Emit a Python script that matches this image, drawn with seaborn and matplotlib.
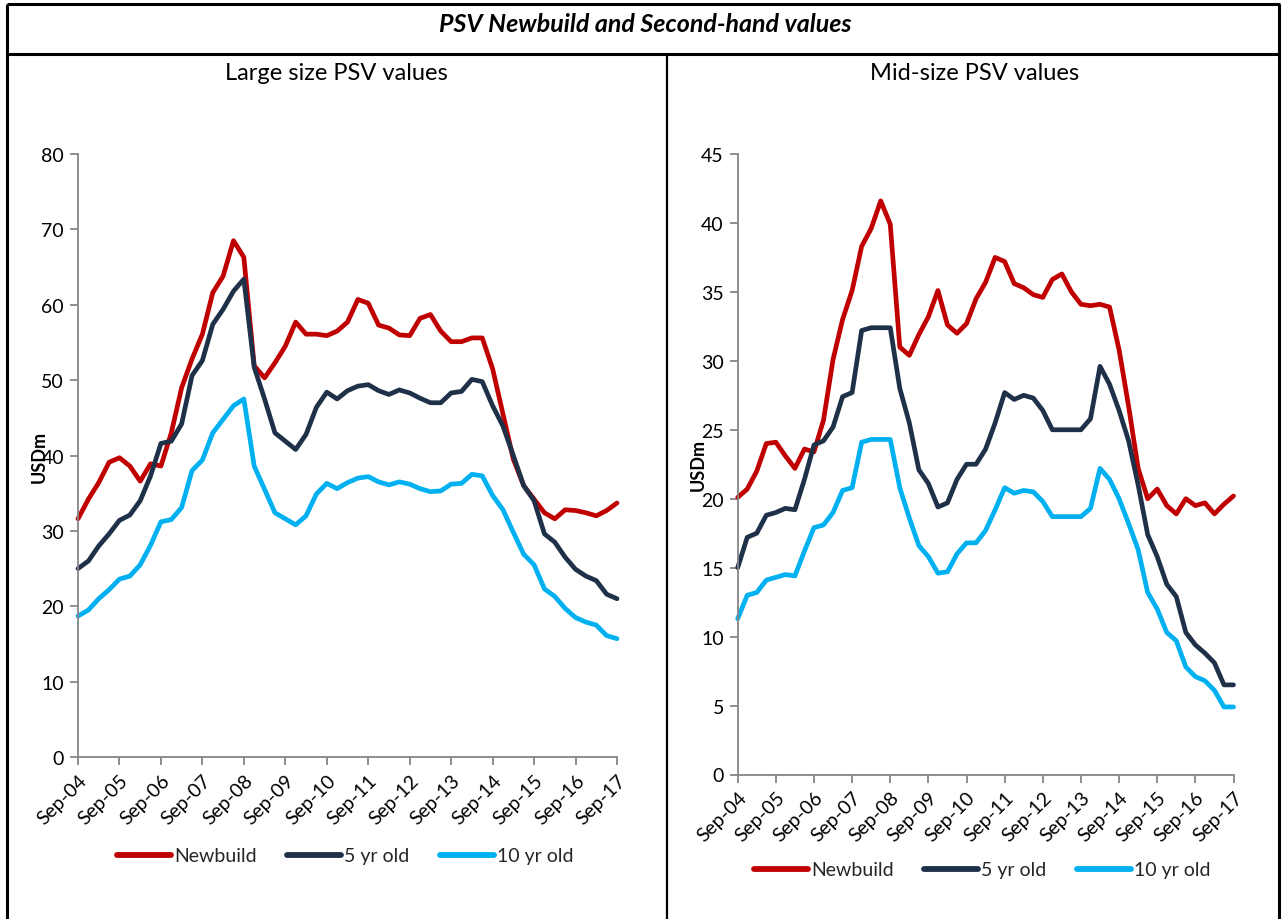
import numpy as np
import pandas as pd
import matplotlib
matplotlib.use("Agg")
import matplotlib.pyplot as plt
from matplotlib.lines import Line2D
import seaborn as sns

# ---------------- data ----------------
tick_labels = ["Sep-04", "Sep-05", "Sep-06", "Sep-07", "Sep-08", "Sep-09", "Sep-10",
               "Sep-11", "Sep-12", "Sep-13", "Sep-14", "Sep-15", "Sep-16", "Sep-17"]
series_names = ["Newbuild", "5 yr old", "10 yr old"]

large_newbuild = [31.6, 34.2, 36.4, 39.1, 39.7, 38.6, 36.6, 38.9, 38.6, 43.0,
                  49.0, 52.8, 56.1, 61.6, 63.8, 68.5, 66.3, 51.9, 50.3, 52.3,
                  54.5, 57.7, 56.1, 56.1, 55.9, 56.5, 57.7, 60.7, 60.2, 57.3,
                  56.9, 56.0, 55.9, 58.2, 58.7, 56.5, 55.1, 55.1, 55.6, 55.6,
                  51.5, 45.5, 39.5, 36.0, 34.2, 32.4, 31.6, 32.8, 32.7, 32.4,
                  32.0, 32.7, 33.7]
large_5yr = [25.0, 26.0, 28.0, 29.6, 31.4, 32.1, 34.0, 37.3, 41.6, 41.9,
             44.2, 50.6, 52.6, 57.4, 59.4, 61.8, 63.4, 51.7, 47.5, 43.0,
             41.9, 40.8, 42.8, 46.4, 48.4, 47.5, 48.6, 49.2, 49.4, 48.6,
             48.1, 48.7, 48.3, 47.6, 47.0, 47.0, 48.3, 48.5, 50.1, 49.8,
             46.6, 43.9, 40.0, 36.0, 34.0, 29.6, 28.5, 26.5, 24.9, 24.0,
             23.4, 21.6, 21.0]
large_10yr = [18.7, 19.5, 21.0, 22.2, 23.6, 24.0, 25.5, 28.1, 31.2, 31.5,
              33.1, 38.0, 39.4, 43.0, 44.8, 46.6, 47.5, 38.6, 35.5, 32.4,
              31.6, 30.8, 32.0, 34.9, 36.3, 35.6, 36.4, 37.0, 37.2, 36.5,
              36.1, 36.5, 36.2, 35.6, 35.2, 35.3, 36.2, 36.3, 37.5, 37.3,
              34.7, 32.8, 29.8, 26.9, 25.5, 22.3, 21.3, 19.7, 18.5, 17.9,
              17.5, 16.1, 15.7]

mid_newbuild = [20.1, 20.7, 22.0, 24.0, 24.1, 23.1, 22.2, 23.6, 23.4, 25.7,
                30.1, 33.0, 35.1, 38.3, 39.6, 41.6, 39.9, 31.0, 30.4, 31.9,
                33.2, 35.1, 32.6, 32.0, 32.7, 34.5, 35.7, 37.5, 37.2, 35.6,
                35.3, 34.8, 34.6, 35.9, 36.3, 35.0, 34.1, 34.0, 34.1, 33.9,
                30.8, 26.7, 22.2, 20.0, 20.7, 19.5, 18.9, 20.0, 19.5, 19.7,
                18.9, 19.6, 20.2]
mid_5yr = [15.0, 17.2, 17.5, 18.8, 19.0, 19.3, 19.2, 21.4, 23.9, 24.2,
           25.2, 27.4, 27.7, 32.2, 32.4, 32.4, 32.4, 28.0, 25.5, 22.1,
           21.1, 19.4, 19.7, 21.4, 22.5, 22.5, 23.6, 25.5, 27.7, 27.2,
           27.5, 27.3, 26.4, 25.0, 25.0, 25.0, 25.0, 25.8, 29.6, 28.3,
           26.4, 24.2, 21.0, 17.4, 15.8, 13.8, 12.9, 10.3, 9.4, 8.8,
           8.1, 6.5, 6.5]
mid_10yr = [11.3, 13.0, 13.2, 14.1, 14.3, 14.5, 14.4, 16.2, 17.9, 18.1,
            19.0, 20.6, 20.8, 24.1, 24.3, 24.3, 24.3, 20.8, 18.6, 16.6,
            15.8, 14.6, 14.7, 16.0, 16.8, 16.8, 17.7, 19.2, 20.8, 20.4,
            20.6, 20.5, 19.8, 18.7, 18.7, 18.7, 18.7, 19.3, 22.2, 21.4,
            20.0, 18.2, 16.3, 13.2, 12.0, 10.3, 9.7, 7.8, 7.1, 6.8,
            6.1, 4.9, 4.9]

colors = ["#C00000", "#1F3149", "#00B0F0"]


def long_frame(values_list):
    rows = []
    for name, vals in zip(series_names, values_list):
        for q, v in enumerate(vals):
            rows.append({"q": q, "value": v, "series": name})
    return pd.DataFrame(rows)


df_large = long_frame([large_newbuild, large_5yr, large_10yr])
df_mid = long_frame([mid_newbuild, mid_5yr, mid_10yr])

# ---------------- style ----------------
sns.set_theme(style="white")
plt.rcParams["font.family"] = ["Lato", "DejaVu Sans"]

W, H = 1282, 920
fig = plt.figure(figsize=(W / 100, H / 100), dpi=100)
fig.patch.set_facecolor("white")


def px_rect(left, right, top, bottom):
    return [left / W, 1 - bottom / H, (right - left) / W, (bottom - top) / H]


ax1 = fig.add_axes(px_rect(78, 617, 155, 758))
ax2 = fig.add_axes(px_rect(737.7, 1233.5, 155, 775.5))

grey = "#868686"
n_q = len(large_newbuild)
tick_pos = list(range(0, n_q, 4))


def style_axes(ax, df, ymax, ystep, label_x):
    sns.lineplot(data=df, x="q", y="value", hue="series", hue_order=series_names,
                 palette=colors, linewidth=3.4, ax=ax, legend=False,
                 solid_joinstyle="round", solid_capstyle="round")
    for ln in ax.lines:
        ln.set_clip_on(False)
    ax.set_xlim(0, n_q - 1)
    ax.set_ylim(0, ymax)
    ax.set_yticks(np.arange(0, ymax + 0.1, ystep))
    ax.set_xticks(tick_pos)
    ax.set_xticklabels(tick_labels, rotation=45, ha="right", rotation_mode="anchor")
    ax.set_xlabel("")
    ax.set_ylabel("USDm", fontsize=13, fontweight="bold", color="black")
    ax.yaxis.set_label_coords(label_x, 0.5)
    for side in ["top", "right"]:
        ax.spines[side].set_visible(False)
    for side in ["left", "bottom"]:
        ax.spines[side].set_color(grey)
        ax.spines[side].set_linewidth(1.3)
    ax.tick_params(axis="both", which="major", direction="out", length=6, width=1.3,
                   color=grey, labelsize=14, labelcolor="black", pad=4,
                   left=True, bottom=True)
    ax.grid(False)
    ax.set_facecolor("white")


style_axes(ax1, df_large, 80, 10, -0.057)
style_axes(ax2, df_mid, 45, 5, -0.062)

# legends
handles = [Line2D([0], [0], color=c, linewidth=4.2, solid_capstyle="round") for c in colors]
for cx, cy in [(345, 857), (982, 871)]:
    fig.legend(handles, series_names, loc="center", bbox_to_anchor=(cx / W, 1 - cy / H),
               ncol=3, frameon=False, fontsize=14, handlelength=2.8, handletextpad=0.15,
               columnspacing=1.55)

# titles
fig.text(645 / W, 1 - 24 / H, "PSV Newbuild and Second-hand values", ha="center",
         va="center", fontsize=18, fontweight="bold", fontstyle="italic", color="black")
fig.text(336 / W, 1 - 73 / H, "Large size PSV values", ha="center", va="center",
         fontsize=17, color="black")
fig.text(975 / W, 1 - 73 / H, "Mid-size PSV values", ha="center", va="center",
         fontsize=17, color="black")

# frame lines
def fline(x0, y0, x1, y1, lw=2.2):
    fig.add_artist(Line2D([x0 / W, x1 / W], [1 - y0 / H, 1 - y1 / H],
                          color="black", linewidth=lw, solid_capstyle="butt"))

fline(7, 5, 1280, 5)
fline(7, 5, 7, 920)
fline(1279, 5, 1279, 920)
fline(7, 55, 1280, 55)
fline(667, 55, 667, 920, lw=1.6)

fig.savefig("out.png", dpi=100, facecolor="white")
